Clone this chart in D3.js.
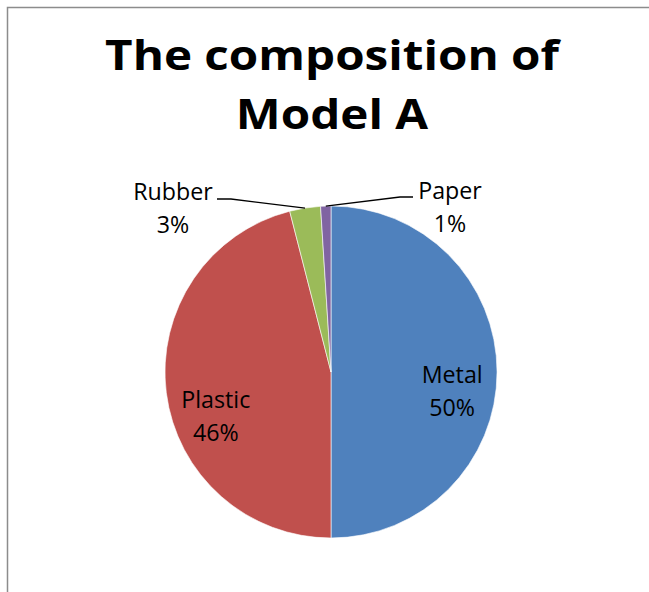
<!DOCTYPE html>
<html>
<head>
<meta charset="utf-8">
<script src="https://cdn.jsdelivr.net/npm/d3@7"></script>
<style>
  html, body { margin: 0; padding: 0; background: #fff; }
  svg { display: block; }
  text { font-variant-ligatures: none; font-feature-settings: "liga" 0; }
</style>
</head>
<body>
<svg id="chart" width="649" height="592"></svg>
<script>
// Material shares of Model A (percent)
const categories = ["Metal", "Plastic", "Rubber", "Paper"];
const values = [50, 46, 3, 1];
const colors = ["#4F81BD", "#C0504D", "#9BBB59", "#8064A2"];
const titleLines = ["The composition of", "Model A"];

const W = 649, H = 592;
const cx = 331, cy = 372, R = 166;
const font = "'Open Sans', sans-serif";

const svg = d3.select("#chart");

// chart area frame
svg.append("rect")
  .attr("x", 7.5).attr("y", 7.5)
  .attr("width", W + 20).attr("height", H + 20)
  .attr("fill", "#fff")
  .attr("stroke", "#8c8c8c").attr("stroke-width", 1.5);

// title: bold, first line spanning about 454px
const titleX = 332;
const title = svg.append("g");
const titleBase = [70, 129];
const titleSize = 41;
titleLines.forEach((t, i) => {
  title.append("text")
    .attr("x", 0).attr("y", titleBase[i])
    .attr("text-anchor", "middle")
    .attr("font-family", font).attr("font-weight", "bold")
    .attr("font-size", titleSize)
    .attr("fill", "#000")
    .text(t);
});
{
  const w = title.select("text").node().getComputedTextLength();
  title.attr("transform", `translate(${titleX},0) scale(${454 / w},1)`);
}

const data = categories.map((c, i) => ({ name: c, value: values[i], color: colors[i] }));
const pie = d3.pie().value(d => d.value).sort(null);
const arcs = pie(data);
const arc = d3.arc().innerRadius(0).outerRadius(R);

const g = svg.append("g").attr("transform", `translate(${cx},${cy})`);
g.selectAll("path.slice")
  .data(arcs)
  .join("path")
  .attr("class", "slice")
  .attr("d", arc)
  .attr("fill", d => d.data.color)
  .attr("stroke", "#fff")
  .attr("stroke-width", 0.6);

// label font size: "Metal" spans about 61px
let labelSize = 20;
{
  const probe = svg.append("text").attr("font-family", font).attr("font-size", 20).text("Metal");
  labelSize = 20 * 61 / probe.node().getComputedTextLength();
  probe.remove();
}

// label placement: inside labels sit near the centroid, small slices get leader lines
const total = d3.sum(values);
const labelSpec = {
  Metal:   { inside: true, k: 0.73, dx: 0, dy: 0 },
  Plastic: { inside: true, k: 0.73, dx: 5, dy: 10 },
  Rubber:  { inside: false, lx: -158, ly: -172, elbow: [[-114, -173], [-100, -173]] },
  Paper:   { inside: false, lx: 119, ly: -173, elbow: [[82, -175], [69, -175]] }
};
const lineGap = 33;

arcs.forEach(a => {
  const spec = labelSpec[a.data.name];
  const pct = Math.round(a.data.value / total * 100) + "%";
  const mid = (a.startAngle + a.endAngle) / 2;
  let x, y;
  if (spec.inside) {
    const r = R * spec.k;
    x = Math.sin(mid) * r + spec.dx;
    y = -Math.cos(mid) * r + spec.dy + 11;
  } else {
    const ex = Math.sin(mid) * R, ey = -Math.cos(mid) * R;
    const pts = [[ex, ey]].concat(spec.elbow.slice().reverse());
    g.append("path")
      .attr("d", d3.line()(pts))
      .attr("fill", "none")
      .attr("stroke", "#000")
      .attr("stroke-width", 1.3);
    x = spec.lx; y = spec.ly;
  }
  const t = g.append("text")
    .attr("font-family", font)
    .attr("font-size", labelSize)
    .attr("text-anchor", "middle")
    .attr("fill", "#000");
  t.append("tspan").attr("x", x).attr("y", y).text(a.data.name);
  t.append("tspan").attr("x", x).attr("y", y + lineGap).text(pct);
});
</script>
</body>
</html>
